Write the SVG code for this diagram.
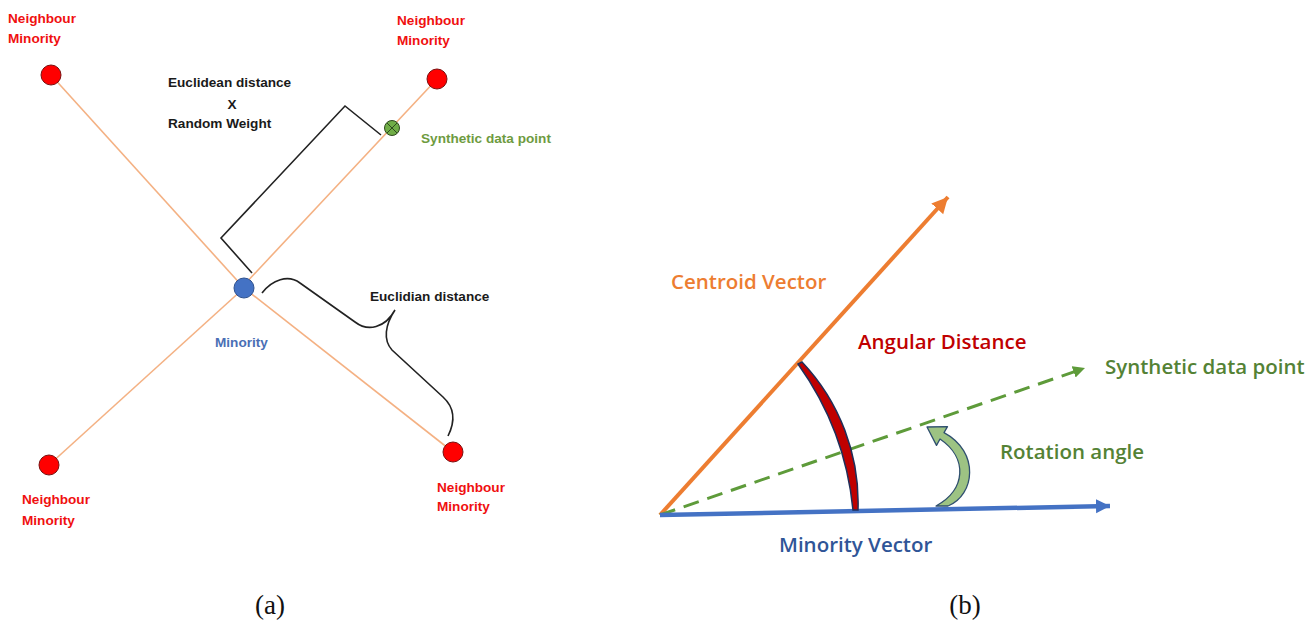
<svg xmlns="http://www.w3.org/2000/svg" width="1315" height="622" viewBox="0 0 1315 622">
<style>
.lbl{font-family:"Liberation Sans",Arial,sans-serif;font-weight:bold;font-size:13.6px}
.red{fill:#F01010}
.blk{fill:#1a1a1a}
.b{font-family:"Open Sans","Liberation Sans",sans-serif;font-weight:600;font-size:20.5px}
.cap{font-family:"Liberation Serif","DejaVu Serif",serif;font-size:27px;fill:#111}
.rdot{fill:#FF0000;stroke:#7a1010;stroke-width:1}
.ol{stroke:#F4B183;stroke-width:1.6;fill:none}
.br{stroke:#222;stroke-width:1.6;fill:none}
</style>
<defs>
<marker id="ao" markerUnits="userSpaceOnUse" markerWidth="20" markerHeight="20" refX="16" refY="8" orient="auto"><path d="M0,0 L16,8 L0,16 Z" fill="#ED7D31"/></marker>
<marker id="ab" markerUnits="userSpaceOnUse" markerWidth="20" markerHeight="20" refX="14" refY="7" orient="auto"><path d="M0,0 L14,7 L0,14 Z" fill="#4472C4"/></marker>
<marker id="ag" markerUnits="userSpaceOnUse" markerWidth="20" markerHeight="20" refX="12" refY="6" orient="auto"><path d="M0,0 L12,6 L0,12 Z" fill="#5E9B3A"/></marker>
</defs>
<rect width="1315" height="622" fill="#fff"/>
<g id="connectors">
<line class="ol" x1="51" y1="75" x2="244" y2="288"/>
<line class="ol" x1="244" y1="288" x2="453" y2="452"/>
<line class="ol" x1="437" y1="79" x2="244" y2="285"/>
<line class="ol" x1="244" y1="288" x2="49" y2="465"/>
<path class="br" d="M252,273 L221,238 L345,106 L381,135"/>
<path class="br" d="M262,293 C272,280 288,274 300,283 L355,322 C368,332 385,328 395,310 C385,325 383,340 392,350 L443,397 C455,408 455,422 448,436"/>
<line x1="660" y1="515" x2="948" y2="197" stroke="#ED7D31" stroke-width="4" marker-end="url(#ao)"/>
<line x1="660" y1="515" x2="1085" y2="368" stroke="#5E9B3A" stroke-width="3" stroke-dasharray="16,9" marker-end="url(#ag)"/>
<line x1="660" y1="515" x2="1110" y2="506" stroke="#4472C4" stroke-width="4.5" marker-end="url(#ab)"/>
<path d="M802,362 A205,205 0 0 1 858,510 L853,510 A300,300 0 0 0 798,364 Z" fill="#C00000" stroke="#1F2F5A" stroke-width="1.5"/>
<path d="M936,506 C966,490 968,458 940,439 L936.5,445.4 L927,427 L947.5,426.6 L944,432.6 C980,452 975,495 948,506 Z" fill="#9DC383" stroke="#2F4F6F" stroke-width="1.3" stroke-linejoin="round"/>
</g>
<g id="nb-tl"><circle class="rdot" cx="51" cy="75" r="10"/><text class="lbl red" x="8" y="23">Neighbour</text><text class="lbl red" x="8" y="43">Minority</text></g>
<g id="nb-tr"><circle class="rdot" cx="437" cy="79" r="10"/><text class="lbl red" x="397" y="25">Neighbour</text><text class="lbl red" x="397" y="45">Minority</text></g>
<g id="nb-bl"><circle class="rdot" cx="49" cy="465" r="10"/><text class="lbl red" x="22" y="504">Neighbour</text><text class="lbl red" x="22" y="525">Minority</text></g>
<g id="nb-br"><circle class="rdot" cx="453" cy="452" r="10"/><text class="lbl red" x="437" y="492">Neighbour</text><text class="lbl red" x="437" y="511">Minority</text></g>
<g id="minority"><circle cx="244" cy="288" r="10" fill="#4472C4" stroke="#2F528F" stroke-width="1"/><text class="lbl" x="215" y="347" fill="#4A6FB5">Minority</text></g>
<g id="synthetic-a"><circle cx="392" cy="128" r="7.5" fill="#70AD47" stroke="#2E4A1E" stroke-width="1"/><path d="M387,123 L397,133 M397,123 L387,133" stroke="#2E4A1E" stroke-width="1"/><text class="lbl" x="421" y="143" fill="#6E9B3F">Synthetic data point</text></g>
<g id="label-ew"><text class="lbl blk" x="168" y="87">Euclidean distance</text><text class="lbl blk" x="232" y="109" text-anchor="middle">X</text><text class="lbl blk" x="168" y="128">Random Weight</text></g>
<g id="label-ed"><text class="lbl blk" x="370" y="301">Euclidian distance</text></g>
<g id="label-b">
<text class="b" x="671" y="289" fill="#ED7D31">Centroid Vector</text>
<text class="b" x="858" y="349" fill="#C00000">Angular Distance</text>
<text class="b" x="1105" y="374" fill="#548235">Synthetic data point</text>
<text class="b" x="1000" y="459" fill="#548235">Rotation angle</text>
<text class="b" x="779" y="552" fill="#2F5597">Minority Vector</text>
</g>
<text class="cap" x="270" y="614" text-anchor="middle">(a)</text>
<text class="cap" x="965" y="614" text-anchor="middle">(b)</text>
</svg>
